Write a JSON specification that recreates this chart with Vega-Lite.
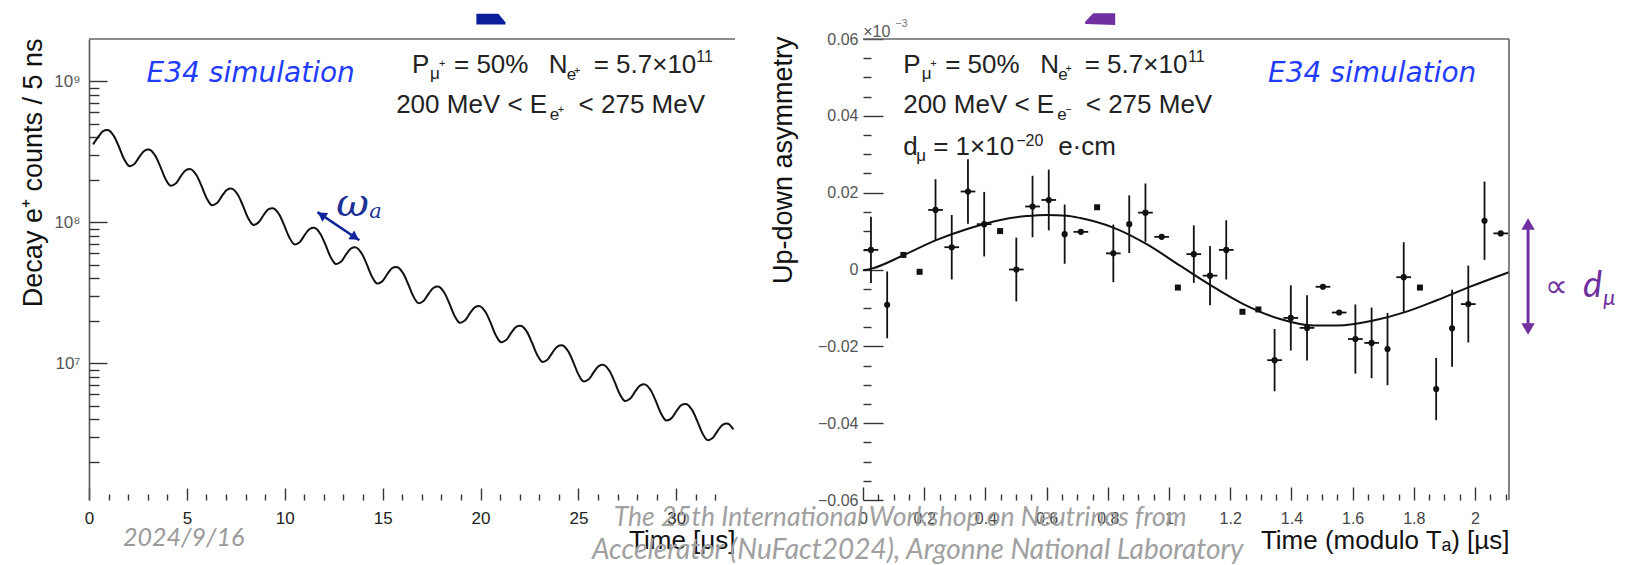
{
  "$schema": "https://vega.github.io/schema/vega-lite/v6.json",
  "background": "white",
  "padding": {"left": 18, "top": 13, "right": 9, "bottom": 1},
  "config": {
    "view": {"stroke": null},
    "axis": {"labelFont": "Liberation Sans", "titleFont": "Liberation Sans", "titleFontWeight": "normal", "titleFontSize": 26, "titleColor": "#111", "tickColor": "#333", "tickWidth": 1.4, "grid": false, "labelOverlap": false, "labelFlush": false},
    "text": {"font": "Liberation Sans"}
  },
  "datasets": {
    "decay": [
      {"t": 0.209, "counts": 3.563e8}, {"t": 0.473, "counts": 4.018e8}, {"t": 0.736, "counts": 4.434e8},
      {"t": 1.000, "counts": 4.489e8}, {"t": 1.264, "counts": 4.093e8}, {"t": 1.528, "counts": 3.425e8}, {"t": 1.791, "counts": 2.802e8},
      {"t": 2.055, "counts": 2.498e8}, {"t": 2.319, "counts": 2.588e8}, {"t": 2.583, "counts": 2.919e8}, {"t": 2.846, "counts": 3.221e8},
      {"t": 3.110, "counts": 3.261e8}, {"t": 3.374, "counts": 2.973e8}, {"t": 3.638, "counts": 2.488e8}, {"t": 3.901, "counts": 2.035e8},
      {"t": 4.165, "counts": 1.815e8}, {"t": 4.429, "counts": 1.880e8}, {"t": 4.693, "counts": 2.120e8}, {"t": 4.956, "counts": 2.340e8},
      {"t": 5.220, "counts": 2.369e8}, {"t": 5.484, "counts": 2.160e8}, {"t": 5.748, "counts": 1.807e8}, {"t": 6.011, "counts": 1.479e8},
      {"t": 6.275, "counts": 1.318e8}, {"t": 6.539, "counts": 1.366e8}, {"t": 6.803, "counts": 1.540e8}, {"t": 7.066, "counts": 1.700e8},
      {"t": 7.330, "counts": 1.721e8}, {"t": 7.594, "counts": 1.569e8}, {"t": 7.858, "counts": 1.313e8}, {"t": 8.121, "counts": 1.074e8},
      {"t": 8.385, "counts": 9.575e7}, {"t": 8.649, "counts": 9.920e7}, {"t": 8.913, "counts": 1.119e8}, {"t": 9.176, "counts": 1.235e8},
      {"t": 9.440, "counts": 1.250e8}, {"t": 9.704, "counts": 1.1396e8}, {"t": 9.968, "counts": 9.536e7}, {"t": 10.231, "counts": 7.801e7},
      {"t": 10.495, "counts": 6.955e7}, {"t": 10.759, "counts": 7.206e7}, {"t": 11.023, "counts": 8.127e7}, {"t": 11.286, "counts": 8.968e7},
      {"t": 11.550, "counts": 9.079e7}, {"t": 11.814, "counts": 8.278e7}, {"t": 12.078, "counts": 6.927e7}, {"t": 12.341, "counts": 5.667e7},
      {"t": 12.605, "counts": 5.052e7}, {"t": 12.869, "counts": 5.234e7}, {"t": 13.133, "counts": 5.904e7}, {"t": 13.396, "counts": 6.514e7},
      {"t": 13.660, "counts": 6.595e7}, {"t": 13.924, "counts": 6.013e7}, {"t": 14.188, "counts": 5.032e7}, {"t": 14.451, "counts": 4.116e7},
      {"t": 14.715, "counts": 3.670e7}, {"t": 14.979, "counts": 3.802e7}, {"t": 15.243, "counts": 4.288e7}, {"t": 15.506, "counts": 4.732e7},
      {"t": 15.770, "counts": 4.791e7}, {"t": 16.034, "counts": 4.368e7}, {"t": 16.298, "counts": 3.655e7}, {"t": 16.561, "counts": 2.990e7},
      {"t": 16.825, "counts": 2.666e7}, {"t": 17.089, "counts": 2.762e7}, {"t": 17.353, "counts": 3.115e7}, {"t": 17.616, "counts": 3.437e7},
      {"t": 17.880, "counts": 3.480e7}, {"t": 18.144, "counts": 3.173e7}, {"t": 18.408, "counts": 2.655e7}, {"t": 18.671, "counts": 2.172e7},
      {"t": 18.935, "counts": 1.936e7}, {"t": 19.199, "counts": 2.006e7}, {"t": 19.463, "counts": 2.263e7}, {"t": 19.726, "counts": 2.497e7},
      {"t": 19.990, "counts": 2.528e7}, {"t": 20.254, "counts": 2.305e7}, {"t": 20.518, "counts": 1.929e7}, {"t": 20.781, "counts": 1.578e7},
      {"t": 21.045, "counts": 1.407e7}, {"t": 21.309, "counts": 1.457e7}, {"t": 21.573, "counts": 1.644e7}, {"t": 21.836, "counts": 1.814e7},
      {"t": 22.100, "counts": 1.836e7}, {"t": 22.364, "counts": 1.674e7}, {"t": 22.628, "counts": 1.401e7}, {"t": 22.891, "counts": 1.146e7},
      {"t": 23.155, "counts": 1.022e7}, {"t": 23.419, "counts": 1.058e7}, {"t": 23.683, "counts": 1.194e7}, {"t": 23.946, "counts": 1.317e7},
      {"t": 24.210, "counts": 1.334e7}, {"t": 24.474, "counts": 1.216e7}, {"t": 24.738, "counts": 1.018e7}, {"t": 25.001, "counts": 8.325e6},
      {"t": 25.265, "counts": 7.422e6}, {"t": 25.529, "counts": 7.689e6}, {"t": 25.793, "counts": 8.672e6}, {"t": 26.056, "counts": 9.570e6},
      {"t": 26.320, "counts": 9.687e6}, {"t": 26.584, "counts": 8.833e6}, {"t": 26.848, "counts": 7.391e6}, {"t": 27.111, "counts": 6.047e6},
      {"t": 27.375, "counts": 5.391e6}, {"t": 27.639, "counts": 5.585e6}, {"t": 27.903, "counts": 6.299e6}, {"t": 28.166, "counts": 6.951e6},
      {"t": 28.430, "counts": 7.039e6}, {"t": 28.694, "counts": 6.418e6}, {"t": 28.958, "counts": 5.370e6}, {"t": 29.221, "counts": 4.394e6},
      {"t": 29.485, "counts": 3.917e6}, {"t": 29.749, "counts": 4.058e6}, {"t": 30.013, "counts": 4.577e6}, {"t": 30.276, "counts": 5.051e6},
      {"t": 30.540, "counts": 5.113e6}, {"t": 30.804, "counts": 4.662e6}, {"t": 31.068, "counts": 3.901e6}, {"t": 31.331, "counts": 3.191e6},
      {"t": 31.595, "counts": 2.845e6}, {"t": 31.859, "counts": 2.948e6}, {"t": 32.123, "counts": 3.325e6}, {"t": 32.386, "counts": 3.669e6},
      {"t": 32.650, "counts": 3.714e6}, {"t": 32.914, "counts": 3.386e6}
    ],
    "fit": [
      {"t": 0.0, "a": -0.0002}, {"t": 0.031, "a": 0.0003}, {"t": 0.132, "a": 0.0037}, {"t": 0.241, "a": 0.0077},
      {"t": 0.343, "a": 0.0106}, {"t": 0.449, "a": 0.0129}, {"t": 0.535, "a": 0.0139}, {"t": 0.6, "a": 0.0142},
      {"t": 0.666, "a": 0.0140}, {"t": 0.71, "a": 0.0134}, {"t": 0.818, "a": 0.0109}, {"t": 0.927, "a": 0.0066},
      {"t": 1.036, "a": 0.0010}, {"t": 1.134, "a": -0.0040}, {"t": 1.243, "a": -0.0090}, {"t": 1.363, "a": -0.0129},
      {"t": 1.472, "a": -0.0146}, {"t": 1.55, "a": -0.0146}, {"t": 1.668, "a": -0.0133}, {"t": 1.771, "a": -0.0111},
      {"t": 1.875, "a": -0.0080}, {"t": 1.98, "a": -0.0046}, {"t": 2.111, "a": -0.0007}
    ],
    "asym": [
      {"t": 0.026, "a": 0.0051, "err": 0.0086, "xerr": 0.024},
      {"t": 0.079, "a": -0.0092, "err": 0.0087, "xerr": 0},
      {"t": 0.132, "a": 0.0038, "err": 0, "xerr": 0},
      {"t": 0.185, "a": -0.0006, "err": 0, "xerr": 0},
      {"t": 0.237, "a": 0.0155, "err": 0.0080, "xerr": 0.024},
      {"t": 0.290, "a": 0.0058, "err": 0.0084, "xerr": 0.024},
      {"t": 0.343, "a": 0.0203, "err": 0.0084, "xerr": 0.024},
      {"t": 0.396, "a": 0.0118, "err": 0.0084, "xerr": 0.024},
      {"t": 0.448, "a": 0.0100, "err": 0, "xerr": 0},
      {"t": 0.501, "a": 0.0000, "err": 0.0083, "xerr": 0.024},
      {"t": 0.554, "a": 0.0164, "err": 0.0080, "xerr": 0.024},
      {"t": 0.607, "a": 0.0181, "err": 0.0079, "xerr": 0.024},
      {"t": 0.659, "a": 0.0092, "err": 0.0077, "xerr": 0},
      {"t": 0.712, "a": 0.0098, "err": 0, "xerr": 0.024},
      {"t": 0.765, "a": 0.0162, "err": 0, "xerr": 0},
      {"t": 0.818, "a": 0.0042, "err": 0.0075, "xerr": 0.024},
      {"t": 0.870, "a": 0.0118, "err": 0.0075, "xerr": 0},
      {"t": 0.923, "a": 0.0148, "err": 0.0076, "xerr": 0.024},
      {"t": 0.976, "a": 0.0085, "err": 0, "xerr": 0.024},
      {"t": 1.029, "a": -0.0047, "err": 0, "xerr": 0},
      {"t": 1.081, "a": 0.0040, "err": 0.0075, "xerr": 0.024},
      {"t": 1.134, "a": -0.0016, "err": 0.0077, "xerr": 0.024},
      {"t": 1.187, "a": 0.0051, "err": 0.0077, "xerr": 0.024},
      {"t": 1.240, "a": -0.0110, "err": 0, "xerr": 0},
      {"t": 1.292, "a": -0.0104, "err": 0, "xerr": 0},
      {"t": 1.345, "a": -0.0236, "err": 0.0081, "xerr": 0.024},
      {"t": 1.398, "a": -0.0126, "err": 0.0085, "xerr": 0.024},
      {"t": 1.451, "a": -0.0152, "err": 0.0085, "xerr": 0.024},
      {"t": 1.503, "a": -0.0045, "err": 0, "xerr": 0.024},
      {"t": 1.556, "a": -0.0112, "err": 0, "xerr": 0.024},
      {"t": 1.609, "a": -0.0181, "err": 0.0090, "xerr": 0.024},
      {"t": 1.662, "a": -0.0191, "err": 0.0092, "xerr": 0.024},
      {"t": 1.714, "a": -0.0207, "err": 0.0094, "xerr": 0},
      {"t": 1.767, "a": -0.0020, "err": 0.0091, "xerr": 0.024},
      {"t": 1.820, "a": -0.0047, "err": 0, "xerr": 0},
      {"t": 1.873, "a": -0.0311, "err": 0.0081, "xerr": 0},
      {"t": 1.925, "a": -0.0153, "err": 0.0100, "xerr": 0},
      {"t": 1.978, "a": -0.0090, "err": 0.0100, "xerr": 0.024},
      {"t": 2.031, "a": 0.0127, "err": 0.0102, "xerr": 0},
      {"t": 2.084, "a": 0.0094, "err": 0, "xerr": 0.024}
    ]
  },
  "bounds": "flush",
  "spacing": 128,
  "hconcat": [
    {
      "width": 646,
      "height": 461,
      "resolve": {"axis": {"x": "independent", "y": "independent"}},
      "layer": [
        {
          "layer": [
            {
              "data": {"name": "decay"},
              "mark": {"type": "line", "color": "#111", "strokeWidth": 2, "interpolate": "catmull-rom"},
              "encoding": {
                "x": {"field": "t", "type": "quantitative",
                  "scale": {"domain": [0, 33], "nice": false, "zero": false},
                  "axis": {"title": "Time [μs]", "orient": "bottom", "values": [0,5,10,15,20,25,30],
                    "domain": false, "tickSize": -12, "labelOverlap": false, "labelFlush": false,
                    "labelPadding": 22, "labelFontSize": 17, "labelColor": "#222",
                    "titleX": 646, "titleY": 48, "titleAlign": "right", "titleBaseline": "alphabetic"}},
                "y": {"field": "counts", "type": "quantitative",
                  "scale": {"type": "log", "domain": [1070000, 1990000000], "nice": false},
                  "axis": {"title": "Decay e⁺ counts / 5 ns", "orient": "left",
                    "values": [10000000, 100000000, 1000000000],
                    "domain": true, "domainColor": "#555", "domainWidth": 1.6,
                    "labelExpr": "datum.value === 10000000 ? '10⁷' : datum.value === 100000000 ? '10⁸' : '10⁹'",
                    "tickSize": -18, "labelOverlap": false,
                    "labelPadding": 27, "labelFontSize": 17, "labelColor": "#555",
                    "titleFontSize": 27,
                    "titleX": -48, "titleY": -1, "titleAngle": -90, "titleAlign": "right", "titleBaseline": "alphabetic"}}
              }
            },
            {"data": {"values": [{}]}, "mark": {"type": "rule", "color": "#666", "strokeWidth": 1.6}, "encoding": {"y": {"datum": 1990000000}}},
            {"data": {"values": [{}]}, "mark": {"type": "text", "text": "E34 simulation", "font": "DejaVu Sans", "fontStyle": "italic", "fontSize": 28, "color": "#1f3cff", "align": "center", "baseline": "alphabetic"}, "encoding": {"x": {"datum": 8.26}, "y": {"datum": 984000000}}},
            {"data": {"values": [{}]}, "mark": {"type": "text", "text": "P", "fontSize": 26, "color": "#222", "align": "left", "baseline": "alphabetic"}, "encoding": {"x": {"datum": 16.505}, "y": {"datum": 1140000000}}},
            {"data": {"values": [{}]}, "mark": {"type": "text", "text": "μ", "fontSize": 17, "color": "#222", "align": "left", "baseline": "alphabetic"}, "encoding": {"x": {"datum": 17.42}, "y": {"datum": 1033000000}}},
            {"data": {"values": [{}]}, "mark": {"type": "text", "text": "+", "fontSize": 11, "color": "#222", "align": "left", "baseline": "alphabetic"}, "encoding": {"x": {"datum": 17.88}, "y": {"datum": 1257000000}}},
            {"data": {"values": [{}]}, "mark": {"type": "text", "text": "= 50%", "fontSize": 26, "color": "#222", "align": "left", "baseline": "alphabetic"}, "encoding": {"x": {"datum": 18.645}, "y": {"datum": 1140000000}}},
            {"data": {"values": [{}]}, "mark": {"type": "text", "text": "N", "fontSize": 26, "color": "#222", "align": "left", "baseline": "alphabetic"}, "encoding": {"x": {"datum": 23.48}, "y": {"datum": 1140000000}}},
            {"data": {"values": [{}]}, "mark": {"type": "text", "text": "e", "fontSize": 17, "color": "#222", "align": "left", "baseline": "alphabetic"}, "encoding": {"x": {"datum": 24.40}, "y": {"datum": 1016000000}}},
            {"data": {"values": [{}]}, "mark": {"type": "text", "text": "+", "fontSize": 11, "color": "#222", "align": "left", "baseline": "alphabetic"}, "encoding": {"x": {"datum": 24.78}, "y": {"datum": 1120000000}}},
            {"data": {"values": [{}]}, "mark": {"type": "text", "text": "= 5.7×10", "fontSize": 26, "color": "#222", "align": "left", "baseline": "alphabetic"}, "encoding": {"x": {"datum": 25.78}, "y": {"datum": 1140000000}}},
            {"data": {"values": [{}]}, "mark": {"type": "text", "text": "11", "fontSize": 16, "color": "#222", "align": "left", "baseline": "alphabetic"}, "encoding": {"x": {"datum": 31.02}, "y": {"datum": 1364000000}}},
            {"data": {"values": [{}]}, "mark": {"type": "text", "text": "200 MeV < E", "fontSize": 26, "color": "#222", "align": "left", "baseline": "alphabetic"}, "encoding": {"x": {"datum": 15.69}, "y": {"datum": 593000000}}},
            {"data": {"values": [{}]}, "mark": {"type": "text", "text": "e", "fontSize": 17, "color": "#222", "align": "left", "baseline": "alphabetic"}, "encoding": {"x": {"datum": 23.54}, "y": {"datum": 529000000}}},
            {"data": {"values": [{}]}, "mark": {"type": "text", "text": "+", "fontSize": 11, "color": "#222", "align": "left", "baseline": "alphabetic"}, "encoding": {"x": {"datum": 23.94}, "y": {"datum": 593000000}}},
            {"data": {"values": [{}]}, "mark": {"type": "text", "text": "< 275 MeV", "fontSize": 26, "color": "#222", "align": "left", "baseline": "alphabetic"}, "encoding": {"x": {"datum": 25.01}, "y": {"datum": 593000000}}},
            {"data": {"values": [{}]}, "mark": {"type": "rule", "color": "#10259a", "strokeWidth": 2.5}, "encoding": {"x": {"datum": 11.67}, "y": {"datum": 117700000}, "x2": {"datum": 13.81}, "y2": {"datum": 74500000}}},
            {"data": {"values": [{}]}, "mark": {"type": "point", "shape": "triangle-right", "angle": 33.7, "filled": true, "size": 110, "color": "#10259a", "opacity": 1}, "encoding": {"x": {"datum": 13.59}, "y": {"datum": 78000000}}},
            {"data": {"values": [{}]}, "mark": {"type": "point", "shape": "triangle-left", "angle": 33.7, "filled": true, "size": 110, "color": "#10259a", "opacity": 1}, "encoding": {"x": {"datum": 11.88}, "y": {"datum": 112500000}}},
            {"data": {"values": [{}]}, "mark": {"type": "text", "text": "ω", "font": "DejaVu Serif", "fontStyle": "italic", "fontSize": 40, "color": "#1b2f96", "align": "left", "baseline": "alphabetic"}, "encoding": {"x": {"datum": 12.63}, "y": {"datum": 110300000}}},
            {"data": {"values": [{}]}, "mark": {"type": "text", "text": "a", "font": "DejaVu Serif", "fontStyle": "italic", "fontSize": 21, "color": "#1b2f96", "align": "left", "baseline": "alphabetic"}, "encoding": {"x": {"datum": 14.31}, "y": {"datum": 106800000}}},
            {"data": {"values": [{}]}, "mark": {"type": "text", "text": "2024/9/16", "font": "Lato", "fontStyle": "italic", "fontSize": 25, "color": "#9a9a9a", "align": "center", "baseline": "alphabetic"}, "encoding": {"x": {"datum": 4.84}, "y": {"datum": 504000}}},
            {"data": {"values": [{}]}, "mark": {"type": "point", "shape": "M-1,-0.37L0.52,-0.37L1,0.21L1,0.37L-1,0.37Z", "filled": true, "size": 841, "color": "#0a1e9c", "opacity": 1, "strokeWidth": 0}, "encoding": {"x": {"datum": 20.53}, "y": {"datum": 2750000000}}}
          ]
        },
        {
          "data": {"name": "decay"},
          "mark": {"type": "line", "opacity": 0},
          "encoding": {
            "x": {"field": "t", "type": "quantitative",
              "axis": {"orient": "bottom", "title": null, "labels": false, "domain": false, "tickSize": -6,
                "values": [1,2,3,4,6,7,8,9,11,12,13,14,16,17,18,19,21,22,23,24,26,27,28,29,31,32]}},
            "y": {"field": "counts", "type": "quantitative",
              "axis": {"orient": "left", "title": null, "labels": false, "domain": false, "tickSize": -10,
                "values": [2000000,3000000,4000000,5000000,6000000,7000000,8000000,9000000,20000000,30000000,40000000,50000000,60000000,70000000,80000000,90000000,200000000,300000000,400000000,500000000,600000000,700000000,800000000,900000000]}}
          }
        }
      ]
    },
    {
      "width": 646,
      "height": 461,
      "resolve": {"axis": {"x": "independent", "y": "independent"}},
      "layer": [
        {
          "layer": [
            {
              "data": {"name": "fit"},
              "mark": {"type": "line", "color": "#111", "strokeWidth": 2, "interpolate": "monotone"},
              "encoding": {
                "x": {"field": "t", "type": "quantitative", "title": "Time (modulo Tₐ) [µs]",
                  "scale": {"domain": [0, 2.111], "nice": false, "zero": false},
                  "axis": {"orient": "bottom",
                    "values": [0,0.2,0.4,0.6,0.8,1,1.2,1.4,1.6,1.8,2],
                    "format": "~g", "domain": false, "tickSize": -13, "labelOverlap": false, "labelFlush": false,
                    "labelPadding": 23, "labelFontSize": 16, "labelColor": "#444",
                    "titleX": 646, "titleY": 48, "titleAlign": "right", "titleBaseline": "alphabetic"}},
                "y": {"field": "a", "type": "quantitative", "title": "Up-down asymmetry",
                  "scale": {"domain": [-0.06, 0.06], "nice": false, "zero": false},
                  "axis": {"orient": "left",
                    "values": [-0.06,-0.04,-0.02,0,0.02,0.04,0.06],
                    "format": ".2f", "labelExpr": "datum.value === 0 ? '0' : datum.label",
                    "domain": false, "tickSize": -20, "labelOverlap": false,
                    "labelPadding": 25, "labelFontSize": 16, "labelColor": "#555",
                    "titleFontSize": 27,
                    "titleX": -72, "titleY": -3, "titleAngle": -90, "titleAlign": "right", "titleBaseline": "alphabetic"}}
              }
            },
            {
              "data": {"name": "asym"},
              "transform": [{"filter": "datum.err > 0"}],
              "mark": {"type": "errorbar", "color": "#111", "thickness": 1.8},
              "encoding": {"x": {"field": "t", "type": "quantitative", "title": "Time (modulo Tₐ) [µs]"}, "y": {"field": "a", "type": "quantitative", "title": "Up-down asymmetry"}, "yError": {"field": "err"}}
            },
            {
              "data": {"name": "asym"},
              "transform": [{"filter": "datum.xerr > 0"}],
              "mark": {"type": "errorbar", "color": "#111", "thickness": 1.8},
              "encoding": {"x": {"field": "t", "type": "quantitative", "title": "Time (modulo Tₐ) [µs]"}, "y": {"field": "a", "type": "quantitative", "title": "Up-down asymmetry"}, "xError": {"field": "xerr"}}
            },
            {
              "data": {"name": "asym"},
              "transform": [{"filter": "datum.err > 0 || datum.xerr > 0"}],
              "mark": {"type": "circle", "size": 38, "color": "#111", "opacity": 1},
              "encoding": {"x": {"field": "t", "type": "quantitative", "title": "Time (modulo Tₐ) [µs]"}, "y": {"field": "a", "type": "quantitative", "title": "Up-down asymmetry"}}
            },
            {
              "data": {"name": "asym"},
              "transform": [{"filter": "datum.err == 0 && datum.xerr == 0"}],
              "mark": {"type": "square", "size": 36, "color": "#111", "opacity": 1},
              "encoding": {"x": {"field": "t", "type": "quantitative", "title": "Time (modulo Tₐ) [µs]"}, "y": {"field": "a", "type": "quantitative", "title": "Up-down asymmetry"}}
            },
            {"data": {"values": [{}]}, "mark": {"type": "rule", "color": "#666", "strokeWidth": 1.6}, "encoding": {"y": {"datum": 0.06}}},
            {"data": {"values": [{}]}, "mark": {"type": "rule", "color": "#666", "strokeWidth": 1.6}, "encoding": {"x": {"datum": 2.111}}},
            {"data": {"values": [{}]}, "mark": {"type": "text", "text": "E34 simulation", "font": "DejaVu Sans", "fontStyle": "italic", "fontSize": 28, "color": "#1f3cff", "align": "center", "baseline": "alphabetic"}, "encoding": {"x": {"datum": 1.664}, "y": {"datum": 0.0488}}},
            {"data": {"values": [{}]}, "mark": {"type": "text", "text": "P", "fontSize": 26, "color": "#222", "align": "left", "baseline": "alphabetic"}, "encoding": {"x": {"datum": 0.1313}, "y": {"datum": 0.05115}}},
            {"data": {"values": [{}]}, "mark": {"type": "text", "text": "μ", "fontSize": 17, "color": "#222", "align": "left", "baseline": "alphabetic"}, "encoding": {"x": {"datum": 0.1918}, "y": {"datum": 0.04959}}},
            {"data": {"values": [{}]}, "mark": {"type": "text", "text": "+", "fontSize": 11, "color": "#222", "align": "left", "baseline": "alphabetic"}, "encoding": {"x": {"datum": 0.2195}, "y": {"datum": 0.05271}}},
            {"data": {"values": [{}]}, "mark": {"type": "text", "text": "= 50%", "fontSize": 26, "color": "#222", "align": "left", "baseline": "alphabetic"}, "encoding": {"x": {"datum": 0.2685}, "y": {"datum": 0.05115}}},
            {"data": {"values": [{}]}, "mark": {"type": "text", "text": "N", "fontSize": 26, "color": "#222", "align": "left", "baseline": "alphabetic"}, "encoding": {"x": {"datum": 0.5789}, "y": {"datum": 0.05115}}},
            {"data": {"values": [{}]}, "mark": {"type": "text", "text": "e", "fontSize": 17, "color": "#222", "align": "left", "baseline": "alphabetic"}, "encoding": {"x": {"datum": 0.6377}, "y": {"datum": 0.04933}}},
            {"data": {"values": [{}]}, "mark": {"type": "text", "text": "+", "fontSize": 11, "color": "#222", "align": "left", "baseline": "alphabetic"}, "encoding": {"x": {"datum": 0.6616}, "y": {"datum": 0.05141}}},
            {"data": {"values": [{}]}, "mark": {"type": "text", "text": "= 5.7×10", "fontSize": 26, "color": "#222", "align": "left", "baseline": "alphabetic"}, "encoding": {"x": {"datum": 0.7245}, "y": {"datum": 0.05115}}},
            {"data": {"values": [{}]}, "mark": {"type": "text", "text": "11", "fontSize": 16, "color": "#222", "align": "left", "baseline": "alphabetic"}, "encoding": {"x": {"datum": 1.062}, "y": {"datum": 0.05401}}},
            {"data": {"values": [{}]}, "mark": {"type": "text", "text": "200 MeV < E", "fontSize": 26, "color": "#222", "align": "left", "baseline": "alphabetic"}, "encoding": {"x": {"datum": 0.1313}, "y": {"datum": 0.04074}}},
            {"data": {"values": [{}]}, "mark": {"type": "text", "text": "e", "fontSize": 17, "color": "#222", "align": "left", "baseline": "alphabetic"}, "encoding": {"x": {"datum": 0.6344}, "y": {"datum": 0.03891}}},
            {"data": {"values": [{}]}, "mark": {"type": "text", "text": "−", "fontSize": 11, "color": "#222", "align": "left", "baseline": "alphabetic"}, "encoding": {"x": {"datum": 0.6606}, "y": {"datum": 0.04074}}},
            {"data": {"values": [{}]}, "mark": {"type": "text", "text": "< 275 MeV", "fontSize": 26, "color": "#222", "align": "left", "baseline": "alphabetic"}, "encoding": {"x": {"datum": 0.7278}, "y": {"datum": 0.04074}}},
            {"data": {"values": [{}]}, "mark": {"type": "text", "text": "d", "fontSize": 26, "color": "#222", "align": "left", "baseline": "alphabetic"}, "encoding": {"x": {"datum": 0.1313}, "y": {"datum": 0.0298}}},
            {"data": {"values": [{}]}, "mark": {"type": "text", "text": "μ", "fontSize": 17, "color": "#222", "align": "left", "baseline": "alphabetic"}, "encoding": {"x": {"datum": 0.1738}, "y": {"datum": 0.02824}}},
            {"data": {"values": [{}]}, "mark": {"type": "text", "text": "= 1×10", "fontSize": 26, "color": "#222", "align": "left", "baseline": "alphabetic"}, "encoding": {"x": {"datum": 0.2293}, "y": {"datum": 0.0298}}},
            {"data": {"values": [{}]}, "mark": {"type": "text", "text": "−20", "fontSize": 16, "color": "#222", "align": "left", "baseline": "alphabetic"}, "encoding": {"x": {"datum": 0.5005}, "y": {"datum": 0.03215}}},
            {"data": {"values": [{}]}, "mark": {"type": "text", "text": "e·cm", "fontSize": 26, "color": "#222", "align": "left", "baseline": "alphabetic"}, "encoding": {"x": {"datum": 0.6377}, "y": {"datum": 0.0298}}},
            {"data": {"values": [{}]}, "mark": {"type": "text", "text": "×10", "fontSize": 16, "color": "#555", "align": "left", "baseline": "alphabetic"}, "encoding": {"x": {"datum": 0.0007}, "y": {"datum": 0.0605}}},
            {"data": {"values": [{}]}, "mark": {"type": "text", "text": "−3", "fontSize": 11, "color": "#777", "align": "left", "baseline": "alphabetic"}, "encoding": {"x": {"datum": 0.105}, "y": {"datum": 0.0631}}},
            {"data": {"values": [{}]}, "mark": {"type": "rule", "color": "#7030a0", "strokeWidth": 3}, "encoding": {"x": {"datum": 2.1733}, "y": {"datum": 0.0124}, "y2": {"datum": -0.0160}}},
            {"data": {"values": [{}]}, "mark": {"type": "point", "shape": "triangle-up", "filled": true, "size": 180, "color": "#7030a0", "opacity": 1}, "encoding": {"x": {"datum": 2.1733}, "y": {"datum": 0.01184}}},
            {"data": {"values": [{}]}, "mark": {"type": "point", "shape": "triangle-down", "filled": true, "size": 180, "color": "#7030a0", "opacity": 1}, "encoding": {"x": {"datum": 2.1733}, "y": {"datum": -0.01549}}},
            {"data": {"values": [{}]}, "mark": {"type": "text", "text": "∝", "font": "DejaVu Sans", "fontSize": 32, "color": "#7030a0", "align": "left", "baseline": "alphabetic"}, "encoding": {"x": {"datum": 2.2285}, "y": {"datum": -0.00716}}},
            {"data": {"values": [{}]}, "mark": {"type": "text", "text": "d", "font": "Lato", "fontStyle": "italic", "fontSize": 36, "color": "#7030a0", "align": "left", "baseline": "alphabetic"}, "encoding": {"x": {"datum": 2.353}, "y": {"datum": -0.00716}}},
            {"data": {"values": [{}]}, "mark": {"type": "text", "text": "μ", "font": "Lato", "fontStyle": "italic", "fontSize": 22, "color": "#7030a0", "align": "left", "baseline": "alphabetic"}, "encoding": {"x": {"datum": 2.419}, "y": {"datum": -0.00924}}},
            {"data": {"values": [{}]}, "mark": {"type": "point", "shape": "M-1,0.18L-0.47,-0.38L1,-0.38L1,0.4L-1,0.33Z", "filled": true, "size": 900, "color": "#7030a0", "opacity": 1, "strokeWidth": 0}, "encoding": {"x": {"datum": 0.775}, "y": {"datum": 0.0652}}},
            {"data": {"values": [{}]}, "mark": {"type": "text", "text": "The 25th International Workshop on Neutrinos from", "font": "Lato", "fontStyle": "italic", "fontSize": 26.5, "color": "#a0a0a0", "align": "center", "baseline": "alphabetic"}, "encoding": {"x": {"datum": 0.1215}, "y": {"datum": -0.06677}}},
            {"data": {"values": [{}]}, "mark": {"type": "text", "text": "Accelerator (NuFact2024), Argonne National Laboratory", "font": "Lato", "fontStyle": "italic", "fontSize": 28, "color": "#a0a0a0", "align": "center", "baseline": "alphabetic"}, "encoding": {"x": {"datum": 0.1787}, "y": {"datum": -0.07536}}}
          ]
        },
        {
          "data": {"name": "fit"},
          "mark": {"type": "line", "opacity": 0},
          "encoding": {
            "x": {"field": "t", "type": "quantitative",
              "axis": {"orient": "bottom", "title": null, "labels": false, "domain": false, "tickSize": -6,
                "values": [0.05,0.1,0.15,0.25,0.3,0.35,0.45,0.5,0.55,0.65,0.7,0.75,0.85,0.9,0.95,1.05,1.1,1.15,1.25,1.3,1.35,1.45,1.5,1.55,1.65,1.7,1.75,1.85,1.9,1.95,2.05,2.1]}},
            "y": {"field": "a", "type": "quantitative",
              "axis": {"orient": "left", "title": null, "labels": false, "domain": false, "tickSize": -8,
                "values": [-0.055,-0.05,-0.045,-0.035,-0.03,-0.025,-0.015,-0.01,-0.005,0.005,0.01,0.015,0.025,0.03,0.035,0.045,0.05,0.055]}}
          }
        }
      ]
    }
  ]
}
